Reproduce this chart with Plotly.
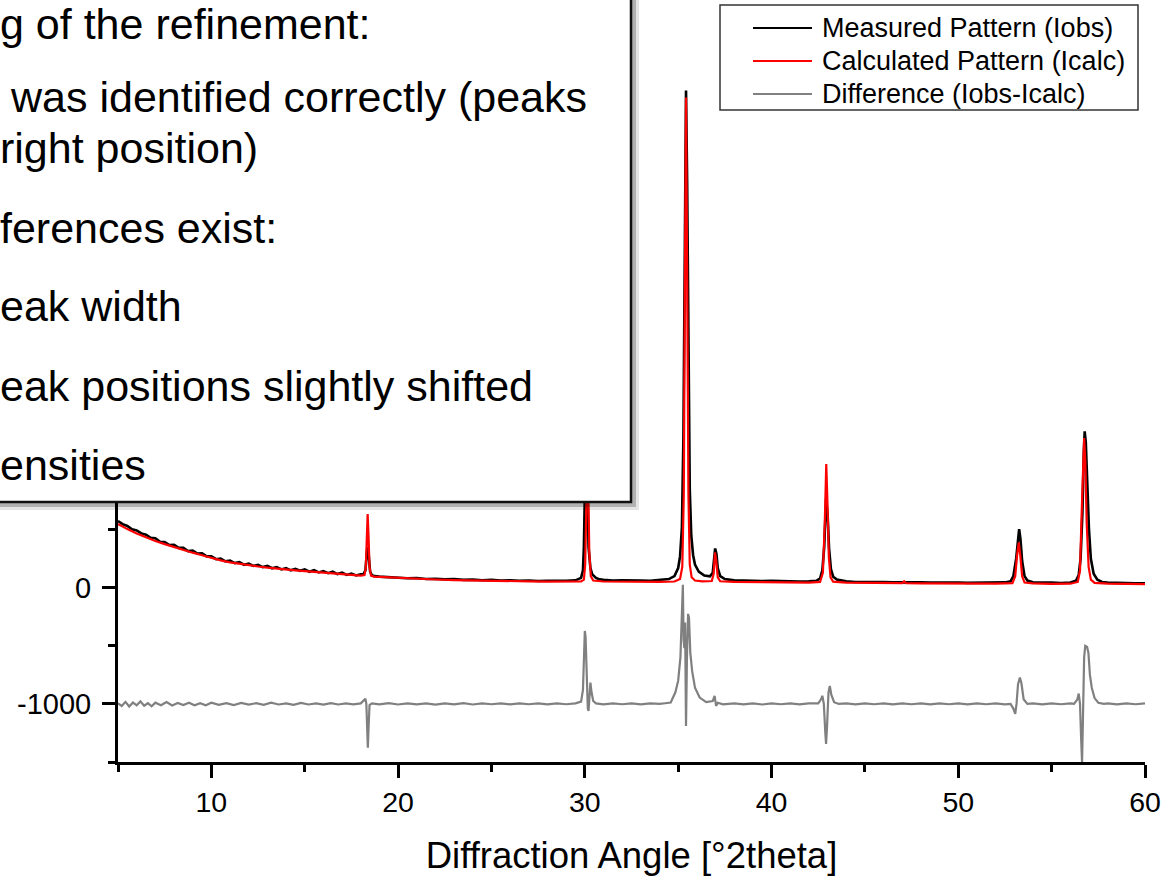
import plotly.graph_objects as go

# ---------------- data ----------------
obs_x = [5.0, 5.25, 5.5, 5.75, 6.0, 6.25, 6.5, 6.75, 7.0, 7.25, 7.5, 7.75, 8.0, 8.25, 8.5, 8.75,
         9.0, 9.25, 9.5, 9.75, 10.0, 10.25, 10.5, 10.75, 11.0, 11.25, 11.5, 11.75, 12.0, 12.25,
         12.5, 12.75, 13.0, 13.25, 13.5, 13.75, 14.0, 14.25, 14.5, 14.75, 15.0, 15.25, 15.5,
         15.75, 16.0, 16.25, 16.5, 16.75, 17.0, 17.25, 17.5, 17.75, 18.0, 18.15,
         18.25, 18.3, 18.35, 18.4, 18.45, 18.5, 18.6, 18.75, 19.0,
         19.5, 20.0, 20.5, 21.0, 21.5, 22.0, 22.5, 23.0, 23.5, 24.0, 24.5, 25.0, 25.5, 26.0,
         26.5, 27.0, 27.5, 28.0, 28.5, 29.0, 29.5, 29.8, 29.9, 29.95, 30.0, 30.05, 30.1, 30.15,
         30.2, 30.3, 30.4, 30.6, 30.8, 31.0, 31.5, 32.0, 32.5, 33.0, 33.5, 34.0, 34.5, 34.8,
         35.0, 35.1, 35.2, 35.28, 35.35, 35.42, 35.48, 35.55, 35.62, 35.7, 35.8, 35.9, 36.1,
         36.4, 36.7, 36.85, 36.92, 36.98, 37.05, 37.12, 37.25, 37.5, 38.0, 38.5, 39.0, 39.5,
         40.0, 40.5, 41.0, 41.5, 42.0, 42.4, 42.6, 42.72, 42.82, 42.92, 43.0, 43.08, 43.18,
         43.3, 43.5, 44.0, 44.5, 45.0, 45.5, 46.0, 46.5, 47.0, 47.5, 48.0, 48.5, 49.0, 49.5,
         50.0, 50.5, 51.0, 51.5, 52.0, 52.5, 52.8, 52.95, 53.1, 53.2, 53.26, 53.33, 53.42,
         53.55, 53.7, 54.0, 54.5, 55.0, 55.5, 56.0, 56.3, 56.45, 56.55, 56.65, 56.72, 56.77,
         56.83, 56.9, 57.0, 57.1, 57.25, 57.45, 57.7, 58.0, 58.5, 59.0, 59.5, 60.0]
obs_y = [575, 548, 532, 503, 494, 468, 457, 430, 426, 396, 394, 368, 370, 343, 344, 316,
         320, 294, 296, 270, 270, 246, 252, 228, 234, 212, 220, 198, 207, 188,
         197, 178, 188, 168, 178, 158, 170, 150, 163, 146, 158, 138, 152,
         132, 144, 126, 138, 118, 130, 110, 122, 106, 116, 118,
         150, 230, 345, 330, 210, 140, 108, 100, 96,
         90, 86, 82, 84, 76, 78, 72, 74, 68, 70, 65, 68, 62, 65,
         60, 63, 58, 61, 58, 60, 64, 85, 150, 350, 800, 1300, 1250, 800,
         350, 170, 115, 85, 72, 68, 62, 64, 60, 62, 60, 66, 75, 100,
         170, 270, 520, 1300, 2900, 4280, 3500, 1900, 850, 450, 280, 200, 140,
         105, 98, 130, 230, 338, 290, 170, 100, 75, 64, 60, 62, 57,
         59, 55, 57, 53, 55, 60, 80, 150, 350, 766, 640, 340, 160,
         95, 70, 55, 50, 52, 48, 50, 46, 48, 45, 47, 44, 46, 43,
         45, 42, 44, 42, 44, 46, 55, 100, 250, 430, 505, 420, 230,
         100, 62, 48, 43, 44, 41, 45, 60, 110, 250, 650, 1150, 1346,
         1250, 900, 500, 250, 120, 70, 50, 44, 40, 41, 38, 39]

calc_x = [5.0, 5.5, 6.0, 6.5, 7.0, 7.5, 8.0, 8.5, 9.0, 9.5, 10.0, 10.5, 11.0, 11.5, 12.0,
          12.5, 13.0, 13.5, 14.0, 14.5, 15.0, 15.5, 16.0, 16.5, 17.0, 17.5, 18.0, 18.2,
          18.27, 18.32, 18.37, 18.42, 18.47, 18.55, 18.7, 19.0, 20.0, 21.0, 22.0, 23.0, 24.0,
          25.0, 26.0, 27.0, 28.0, 29.0, 29.8, 29.95, 30.02, 30.08, 30.13, 30.18, 30.24, 30.32,
          30.45, 31.0, 32.0, 33.0, 34.0, 34.8, 35.1, 35.22, 35.3, 35.36, 35.42, 35.48, 35.55,
          35.62, 35.72, 35.9, 36.3, 36.8, 36.9, 36.97, 37.04, 37.12, 37.25, 38.0, 40.0, 42.0,
          42.6, 42.75, 42.85, 42.93, 43.0, 43.07, 43.16, 43.3, 44.0, 46.0, 47.0, 47.1, 47.2,
          48.0, 50.0, 52.0, 52.9, 53.05, 53.15, 53.24, 53.32, 53.42, 53.55, 54.0, 55.0, 56.0,
          56.4, 56.52, 56.6, 56.68, 56.74, 56.8, 56.88, 56.98, 57.1, 57.3, 58.0, 60.0]
calc_y = [550, 505, 468, 433, 402, 376, 350, 325, 302, 280, 255, 236, 219, 205, 193,
          183, 173, 164, 156, 150, 144, 137, 131, 124, 117, 110, 105, 110,
          170, 400, 634, 430, 180, 105, 96, 93, 84, 77, 71, 66, 62,
          59, 57, 55, 53, 52, 54, 70, 200, 700, 1150, 900, 300, 100,
          62, 54, 51, 50, 50, 54, 75, 180, 800, 2600, 4220, 2700, 800,
          200, 90, 62, 55, 58, 120, 304, 230, 90, 56, 51, 47, 45,
          50, 130, 550, 1065, 700, 260, 90, 52, 45, 41, 40, 55, 40,
          38, 36, 35, 40, 100, 280, 390, 280, 100, 45, 37, 34, 35,
          50, 150, 600, 1150, 1289, 1100, 550, 180, 70, 42, 35, 32]

diff_x = [5.0, 5.2, 5.4, 5.6, 5.8, 6.0, 6.2, 6.4, 6.6, 6.8, 7.0, 7.3, 7.6, 7.9, 8.2, 8.5,
          8.8, 9.1, 9.4, 9.7, 10.0, 10.4, 10.8, 11.2, 11.6, 12.0, 12.4, 12.8, 13.2, 13.6,
          14.0, 14.4, 14.8, 15.2, 15.6, 16.0, 16.4, 16.8, 17.2, 17.6, 18.0, 18.15, 18.25,
          18.3, 18.35, 18.38, 18.42, 18.47, 18.6, 19.0, 19.5, 20.0, 20.5, 21.0, 21.5, 22.0,
          22.5, 23.0, 23.5, 24.0, 24.5, 25.0, 25.5, 26.0, 26.5, 27.0, 27.5, 28.0, 28.5, 29.0,
          29.5, 29.8, 29.9, 29.97, 30.0, 30.04, 30.1, 30.16, 30.2, 30.26, 30.3, 30.36, 30.45,
          30.6, 31.0, 31.5, 32.0, 32.5, 33.0, 33.5, 34.0, 34.3, 34.6, 34.85, 35.0, 35.12,
          35.2, 35.25, 35.29, 35.33, 35.37, 35.42, 35.47, 35.53, 35.58, 35.65, 35.75, 35.9,
          36.15, 36.5, 36.85, 36.95, 37.03, 37.12, 37.4, 38.0, 38.5, 39.0, 39.5, 40.0, 40.5,
          41.0, 41.5, 42.0, 42.5, 42.65, 42.72, 42.8, 42.88, 42.92, 42.97, 43.05, 43.12, 43.2,
          43.35, 43.6, 44.0, 44.5, 45.0, 45.5, 46.0, 46.5, 47.0, 47.5, 48.0, 48.5, 49.0, 49.5,
          50.0, 50.5, 51.0, 51.5, 52.0, 52.5, 52.8, 52.95, 53.05, 53.12, 53.2, 53.3, 53.38,
          53.5, 53.7, 54.0, 54.5, 55.0, 55.5, 56.0, 56.2, 56.38, 56.45, 56.52, 56.58, 56.63,
          56.68, 56.74, 56.8, 56.9, 56.97, 57.05, 57.15, 57.3, 57.5, 57.8, 58.0, 58.5, 59.0,
          59.5, 60.0]
diff_y = [-995, -1018, -982, -1022, -988, -1012, -978, -1016, -994, -1021, -989, -1011, -984,
          -1013, -991, -1009, -989, -1011, -994, -1012, -990, -1008, -993, -1010, -992, -1006,
          -994, -1008, -990, -1005, -995, -1008, -992, -1005, -996, -1006, -994, -1005, -995,
          -1004, -995, -975, -955, -1000, -1300, -1377, -1200, -1010, -995, -1004, -994, -1005,
          -996, -1004, -995, -1006, -996, -1003, -994, -1005, -996, -1003, -995, -1004, -996,
          -1003, -995, -1004, -996, -1003, -995, -980, -880, -500, -372, -420, -800, -1040,
          -1060, -880, -817, -900, -975, -995, -1004, -996, -1003, -995, -1004, -996, -1000,
          -994, -988, -900, -800, -600, -250, 25, -450, -520, -300, -1190, -600, -225, -260,
          -560, -720, -860, -945, -985, -975, -930, -1017, -990, -1003, -996, -1004, -995,
          -1005, -996, -1003, -995, -1004, -996, -995, -960, -930, -1000, -1250, -1344, -1200,
          -900, -845, -920, -985, -1000, -996, -1004, -995, -1003, -996, -1004, -995, -1003,
          -996, -1004, -995, -1003, -996, -1004, -995, -1003, -996, -1004, -1000, -1040, -1086,
          -1000, -830, -774, -820, -960, -1000, -996, -1004, -995, -1003, -996, -1000, -960,
          -911, -1000, -1300, -1505, -1100, -600, -500, -510, -560, -750, -860, -950, -990,
          -1000, -996, -1004, -995, -1003, -996]

series_names = ["Measured Pattern (Iobs)", "Calculated Pattern (Icalc)", "Difference (Iobs-Icalc)"]
series_colors = ["#000000", "#ff0000", "#808080"]

y_tick_vals = [-1000, 0]
y_tick_text = ["-1000", "0"]

note_lines = ["g of the refinement:",
              "was identified correctly (peaks",
              "right position)",
              "ferences exist:",
              "eak width",
              "eak positions slightly shifted",
              "ensities"]

# ---------------- layout helpers (pixel -> paper) ----------------
W, H = 1163, 877
ML, MR, MT, MB = 118, 18, 0, 115
PW, PH = W - ML - MR, H - MT - MB


def px(xp):
    return (xp - ML) / PW


def py(yp):
    return (H - MB - yp) / PH


FONT = "Liberation Sans, Arial, Helvetica, sans-serif"

fig = go.Figure()
fig.add_trace(go.Scatter(x=obs_x, y=obs_y, mode="lines", name=series_names[0],
                         line=dict(color=series_colors[0], width=2.6), showlegend=False))
fig.add_trace(go.Scatter(x=calc_x, y=calc_y, mode="lines", name=series_names[1],
                         line=dict(color=series_colors[1], width=2.2), showlegend=False))
fig.add_trace(go.Scatter(x=diff_x, y=diff_y, mode="lines", name=series_names[2],
                         line=dict(color=series_colors[2], width=2.2), showlegend=False))

shapes = []
annotations = []

# text box with drop shadow
shapes.append(dict(type="rect", xref="paper", yref="paper", layer="above",
                   x0=px(-20), x1=px(639), y0=py(510), y1=py(-20),
                   fillcolor="rgba(0,0,0,0.10)", line=dict(width=0)))
shapes.append(dict(type="rect", xref="paper", yref="paper", layer="above",
                   x0=px(-20), x1=px(636), y0=py(507), y1=py(-20),
                   fillcolor="rgba(0,0,0,0.22)", line=dict(width=0)))
shapes.append(dict(type="rect", xref="paper", yref="paper", layer="above",
                   x0=px(-20), x1=px(631), y0=py(502), y1=py(-20),
                   fillcolor="white", line=dict(color="#111111", width=2.5)))

note_left = [0, 10, 0, 0, 0, 0, 0]
note_base = [39, 112, 163, 243, 321, 401, 480]
NFS = 43
for t, l, b in zip(note_lines, note_left, note_base):
    annotations.append(dict(text=t, xref="paper", yref="paper", x=px(l), y=py(b - 0.3465 * NFS),
                            xanchor="left", yanchor="middle", showarrow=False, borderpad=0,
                            borderwidth=0,
                            font=dict(family=FONT, size=NFS, color="black")))

# custom legend
shapes.append(dict(type="rect", xref="paper", yref="paper", layer="above",
                   x0=px(720), x1=px(1138), y0=py(110), y1=py(5),
                   fillcolor="white", line=dict(color="#333333", width=1.5)))
leg_y = [28, 61, 94]
for name, col, yy in zip(series_names, series_colors, leg_y):
    shapes.append(dict(type="line", xref="paper", yref="paper", layer="above",
                       x0=px(753), x1=px(812), y0=py(yy), y1=py(yy),
                       line=dict(color=col, width=2)))
    annotations.append(dict(text=name, xref="paper", yref="paper", x=px(820), y=py(yy),
                            xanchor="left", yanchor="middle", showarrow=False,
                            font=dict(family=FONT, size=27, color="black")))

fig.update_layout(
    width=W, height=H,
    margin=dict(l=ML, r=MR, t=MT, b=MB),
    paper_bgcolor="white", plot_bgcolor="white",
    showlegend=False,
    font=dict(family=FONT, color="black"),
    shapes=shapes, annotations=annotations,
    xaxis=dict(range=[5, 60], tick0=0, dtick=10, showline=True, linecolor="black", linewidth=3,
               ticks="outside", ticklen=13, tickwidth=2.5, tickcolor="black",
               showgrid=False, zeroline=False,
               tickfont=dict(family=FONT, size=28.5, color="black"),
               minor=dict(tick0=0, dtick=5, ticks="outside", ticklen=7, tickwidth=2.5, tickcolor="black"),
               title=dict(text="Diffraction Angle [°2theta]", standoff=26,
                          font=dict(family=FONT, size=36.5, color="black"))),
    yaxis=dict(range=[-1500, 5060], tickmode="array", tickvals=y_tick_vals, ticktext=y_tick_text,
               showline=True, linecolor="black", linewidth=3,
               ticks="outside", ticklen=13, tickwidth=2.5, tickcolor="black",
               showgrid=False, zeroline=False, ticklabelstandoff=5,
               tickfont=dict(family=FONT, size=29, color="black"),
               minor=dict(tickmode="linear", tick0=0, dtick=500, ticks="outside", ticklen=7,
                          tickwidth=2.5, tickcolor="black")),
)

fig.write_html("out.html")
